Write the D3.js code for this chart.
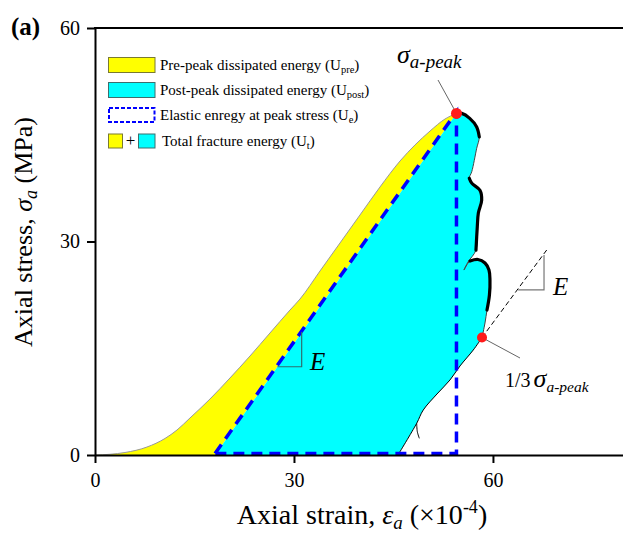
<!DOCTYPE html>
<html><head><meta charset="utf-8">
<script src="https://cdn.jsdelivr.net/npm/d3@7"></script>
<style>
html,body{margin:0;padding:0;background:#fff;}
svg{display:block;font-family:"Liberation Serif","Times New Roman",serif;}
</style></head>
<body>
<svg id="chart" width="623" height="541"></svg>
<script>
// ---- data ----
const xTicks = [0, 30, 60];
const yTicks = [0, 30, 60];
const peak = [54.5, 48.0];
const elasticStart = [18.1, 0];
const prePeak = [[0,0],[2.26,0.10],[4.52,0.35],[7.84,1.12],[10.55,2.32],[12.36,3.51],[14.32,5.20],[17.34,7.87],[20.35,10.82],[23.37,13.91],[26.38,17.14],[29.40,20.37],[30.91,21.92],[33.92,25.85],[36.94,29.79],[39.95,33.72],[42.97,37.66],[45.99,41.31],[48.24,43.56],[50.51,45.52],[52.77,47.21],[54.5,48.0]];
const postPeakUpper = [[54.5,48.0],[55.3,48.0],[56.5,47.3],[57.55,46.1],[57.94,44.7],[57.55,43.1],[56.8,39.8],[56.43,38.9],[56.8,38.2],[58.04,37.2],[58.3,35.8],[57.8,34.0],[57.64,32.1],[57.44,28.8],[56.24,27.12],[55.63,25.99],[56.54,27.26],[57.74,27.47],[58.80,26.98],[59.40,25.99],[59.55,24.59],[59.47,22.48],[59.10,20.37],[58.80,18.55],[58.35,16.5]];
const postPeakLower = [[58.35,16.5],[57.03,14.75],[55.03,12.51],[53.52,10.54],[51.56,8.57],[49.49,6.32],[48.50,4.45],[45.68,0]];
const tail = [[48.50,4.45],[48.6,3.27],[48.9,2.34]];
const thickRuns = [[0, 4], [7, 13], [16, 22]]; // index ranges of postPeakUpper drawn with heavy stroke
const thirdPeak = [58.35, 16.5];
const slopeExt = [[58.35,16.5],[68.1,28.8]];
const triRight = [[63.8,23.2],[67.7,23.2],[67.7,28.1]];
const triLeft = [[27.5,12.4],[31.16,12.4],[31.16,17.3]];
const legendItems = ["Pre-peak dissipated energy (U|pre|)", "Post-peak dissipated energy (U|post|)", "Elastic enregy at peak stress (U|e|)", "Total fracture energy (U|t|)"];

// ---- layout ----
const svg = d3.select("#chart");
const x = d3.scaleLinear().domain([0, 80]).range([95, 625.6]);
const y = d3.scaleLinear().domain([0, 60]).range([455, 28]);
const line = d3.line().x(d => x(d[0])).y(d => y(d[1]));
const smooth = d3.line().x(d => x(d[0])).y(d => y(d[1])).curve(d3.curveMonotoneX);
const wavy = d3.line().x(d => x(d[0])).y(d => y(d[1])).curve(d3.curveCatmullRom.alpha(0.5));

const prePath = smooth(prePeak);
const upperPath = wavy(postPeakUpper);
const lowerPath = wavy(postPeakLower);
const P = p => x(p[0]) + "," + y(p[1]);

// yellow
svg.append("path").attr("d", prePath + "L" + P(elasticStart) + "Z")
  .attr("fill", "#ffff00").attr("stroke", "none");
// cyan
svg.append("path").attr("d", "M" + P(elasticStart) + "L" + upperPath.slice(1) + "L" + lowerPath.slice(1) + "Z")
  .attr("fill", "#00ffff").attr("stroke", "none");
// pre-peak outline
svg.append("path").attr("d", prePath).attr("fill", "none").attr("stroke", "#999").attr("stroke-width", 1);
// post-peak curve: thin base + heavy runs
svg.append("path").attr("d", upperPath).attr("fill", "none").attr("stroke", "#444").attr("stroke-width", 1);
thickRuns.forEach(([a, b]) => {
  svg.append("path").attr("d", wavy(postPeakUpper.slice(a, b + 1)))
    .attr("fill", "none").attr("stroke", "#000").attr("stroke-width", 3.2).attr("stroke-linecap", "round").attr("stroke-linejoin", "round");
});
svg.append("path").attr("d", lowerPath).attr("fill", "none").attr("stroke", "#000").attr("stroke-width", 1);
svg.append("path").attr("d", wavy(tail)).attr("fill", "none").attr("stroke", "#000").attr("stroke-width", 1);

// elastic energy triangle (dashed blue)
svg.append("path").attr("d", line([elasticStart, peak, [peak[0], 0]]) + "Z")
  .attr("transform", "translate(0,-1.5)")
  .attr("fill", "none").attr("stroke", "#0000ff").attr("stroke-width", 3.5).attr("stroke-dasharray", "11,7");

// slope extension + triangles
svg.append("path").attr("d", line(slopeExt)).attr("fill", "none").attr("stroke", "#000").attr("stroke-width", 1).attr("stroke-dasharray", "5,3");
svg.append("path").attr("d", line(triRight)).attr("fill", "none").attr("stroke", "#777").attr("stroke-width", 1.2);
svg.append("path").attr("d", line(triLeft)).attr("fill", "none").attr("stroke", "#2f6e6e").attr("stroke-width", 1.2);

// callout lines
svg.append("line").attr("x1", 438).attr("y1", 80).attr("x2", x(peak[0])).attr("y2", y(peak[1]))
  .attr("stroke", "#666").attr("stroke-width", 1);
svg.append("line").attr("x1", x(thirdPeak[0])).attr("y1", y(thirdPeak[1])).attr("x2", 520).attr("y2", 358)
  .attr("stroke", "#666").attr("stroke-width", 1);

// red dots
svg.append("circle").attr("cx", x(peak[0])).attr("cy", y(peak[1])).attr("r", 5.5).attr("fill", "#ff1a1a");
svg.append("circle").attr("cx", x(thirdPeak[0])).attr("cy", y(thirdPeak[1])).attr("r", 5).attr("fill", "#ff1a1a");

// labels
svg.append("text").attr("x", x(32.4)).attr("y", y(11.94)).attr("font-size", 25).attr("font-style", "italic").text("E");
svg.append("text").attr("x", x(69.05)).attr("y", y(22.48)).attr("font-size", 25).attr("font-style", "italic").text("E");
const pk = svg.append("text").attr("x", 397).attr("y", 63).attr("font-style", "italic");
pk.append("tspan").attr("font-size", 26).text("σ");
pk.append("tspan").attr("font-size", 19).attr("dy", 5).text("a-peak");
const tp = svg.append("text").attr("x", 505).attr("y", 387);
tp.append("tspan").attr("font-size", 20).text("1/3");
tp.append("tspan").attr("font-size", 26).attr("font-style", "italic").attr("dx", 3).text("σ");
tp.append("tspan").attr("font-size", 15.5).attr("font-style", "italic").attr("dy", 5).text("a-peak");

// axes
const gx = svg.append("g").attr("transform", "translate(0,455)")
  .call(d3.axisBottom(x).tickValues(xTicks).tickSize(8).tickSizeOuter(0).tickPadding(10));
const gy = svg.append("g").attr("transform", "translate(95,0)")
  .call(d3.axisLeft(y).tickValues(yTicks).tickSize(8).tickSizeOuter(0).tickPadding(7));
[gx, gy].forEach(g => {
  g.selectAll("path,line").attr("stroke", "#000").attr("stroke-width", 2);
  g.selectAll("text").attr("font-size", 20).attr("font-family", "Liberation Serif").attr("fill", "#000");
});
svg.append("line").attr("x1", 94).attr("x2", 623).attr("y1", 28).attr("y2", 28).attr("stroke", "#000").attr("stroke-width", 2);

// axis titles
const xt = svg.append("text").attr("x", 362).attr("y", 524).attr("text-anchor", "middle").attr("font-size", 28);
xt.append("tspan").text("Axial strain, ");
xt.append("tspan").attr("font-style", "italic").text("ε");
xt.append("tspan").attr("font-style", "italic").attr("font-size", 19).attr("dy", 5).text("a");
xt.append("tspan").attr("dy", -5).text(" (×10");
xt.append("tspan").attr("font-size", 18).attr("dy", -11).text("-4");
xt.append("tspan").attr("dy", 11).text(")");

const yt = svg.append("text").attr("transform", "translate(32,232) rotate(-90)").attr("text-anchor", "middle").attr("font-size", 26);
yt.append("tspan").text("Axial stress, ");
yt.append("tspan").attr("font-style", "italic").text("σ");
yt.append("tspan").attr("font-style", "italic").attr("font-size", 18).attr("dy", 5).text("a");
yt.append("tspan").attr("dy", -5).text(" (MPa)");

svg.append("text").attr("x", 11).attr("y", 35).attr("font-size", 25).attr("font-weight", "bold").text("(a)");

// legend
const lg = svg.append("g");
const rowY = [65, 90, 115, 141];
lg.append("rect").attr("x", 108.5).attr("y", rowY[0]-7.5).attr("width", 46.5).attr("height", 15).attr("fill", "#ffff00").attr("stroke", "#7a7a30").attr("stroke-width", 1);
lg.append("rect").attr("x", 108.5).attr("y", rowY[1]-7.5).attr("width", 46.5).attr("height", 15).attr("fill", "#00ffff").attr("stroke", "#3c6e6e").attr("stroke-width", 1);
lg.append("rect").attr("x", 109).attr("y", rowY[2]-7).attr("width", 45.5).attr("height", 14).attr("fill", "none").attr("stroke", "#0000ff").attr("stroke-width", 2).attr("stroke-dasharray", "4,2");
lg.append("rect").attr("x", 108.5).attr("y", rowY[3]-7).attr("width", 14).attr("height", 14).attr("fill", "#ffff00").attr("stroke", "#7a7a30").attr("stroke-width", 1);
lg.append("text").attr("x", 130.5).attr("y", rowY[3]+5).attr("text-anchor", "middle").attr("font-size", 17).text("+");
lg.append("rect").attr("x", 138.5).attr("y", rowY[3]-7).attr("width", 16.5).attr("height", 14).attr("fill", "#00ffff").attr("stroke", "#3c6e6e").attr("stroke-width", 1);
legendItems.forEach((s, i) => {
  const parts = s.split("|");
  const t = lg.append("text").attr("x", i === 3 ? 162 : 160).attr("y", rowY[i] + 5).attr("font-size", 15);
  t.append("tspan").text(parts[0]);
  t.append("tspan").attr("font-size", 10.5).attr("dy", 3).text(parts[1]);
  t.append("tspan").attr("dy", -3).text(parts[2]);
});
</script>
</body></html>
